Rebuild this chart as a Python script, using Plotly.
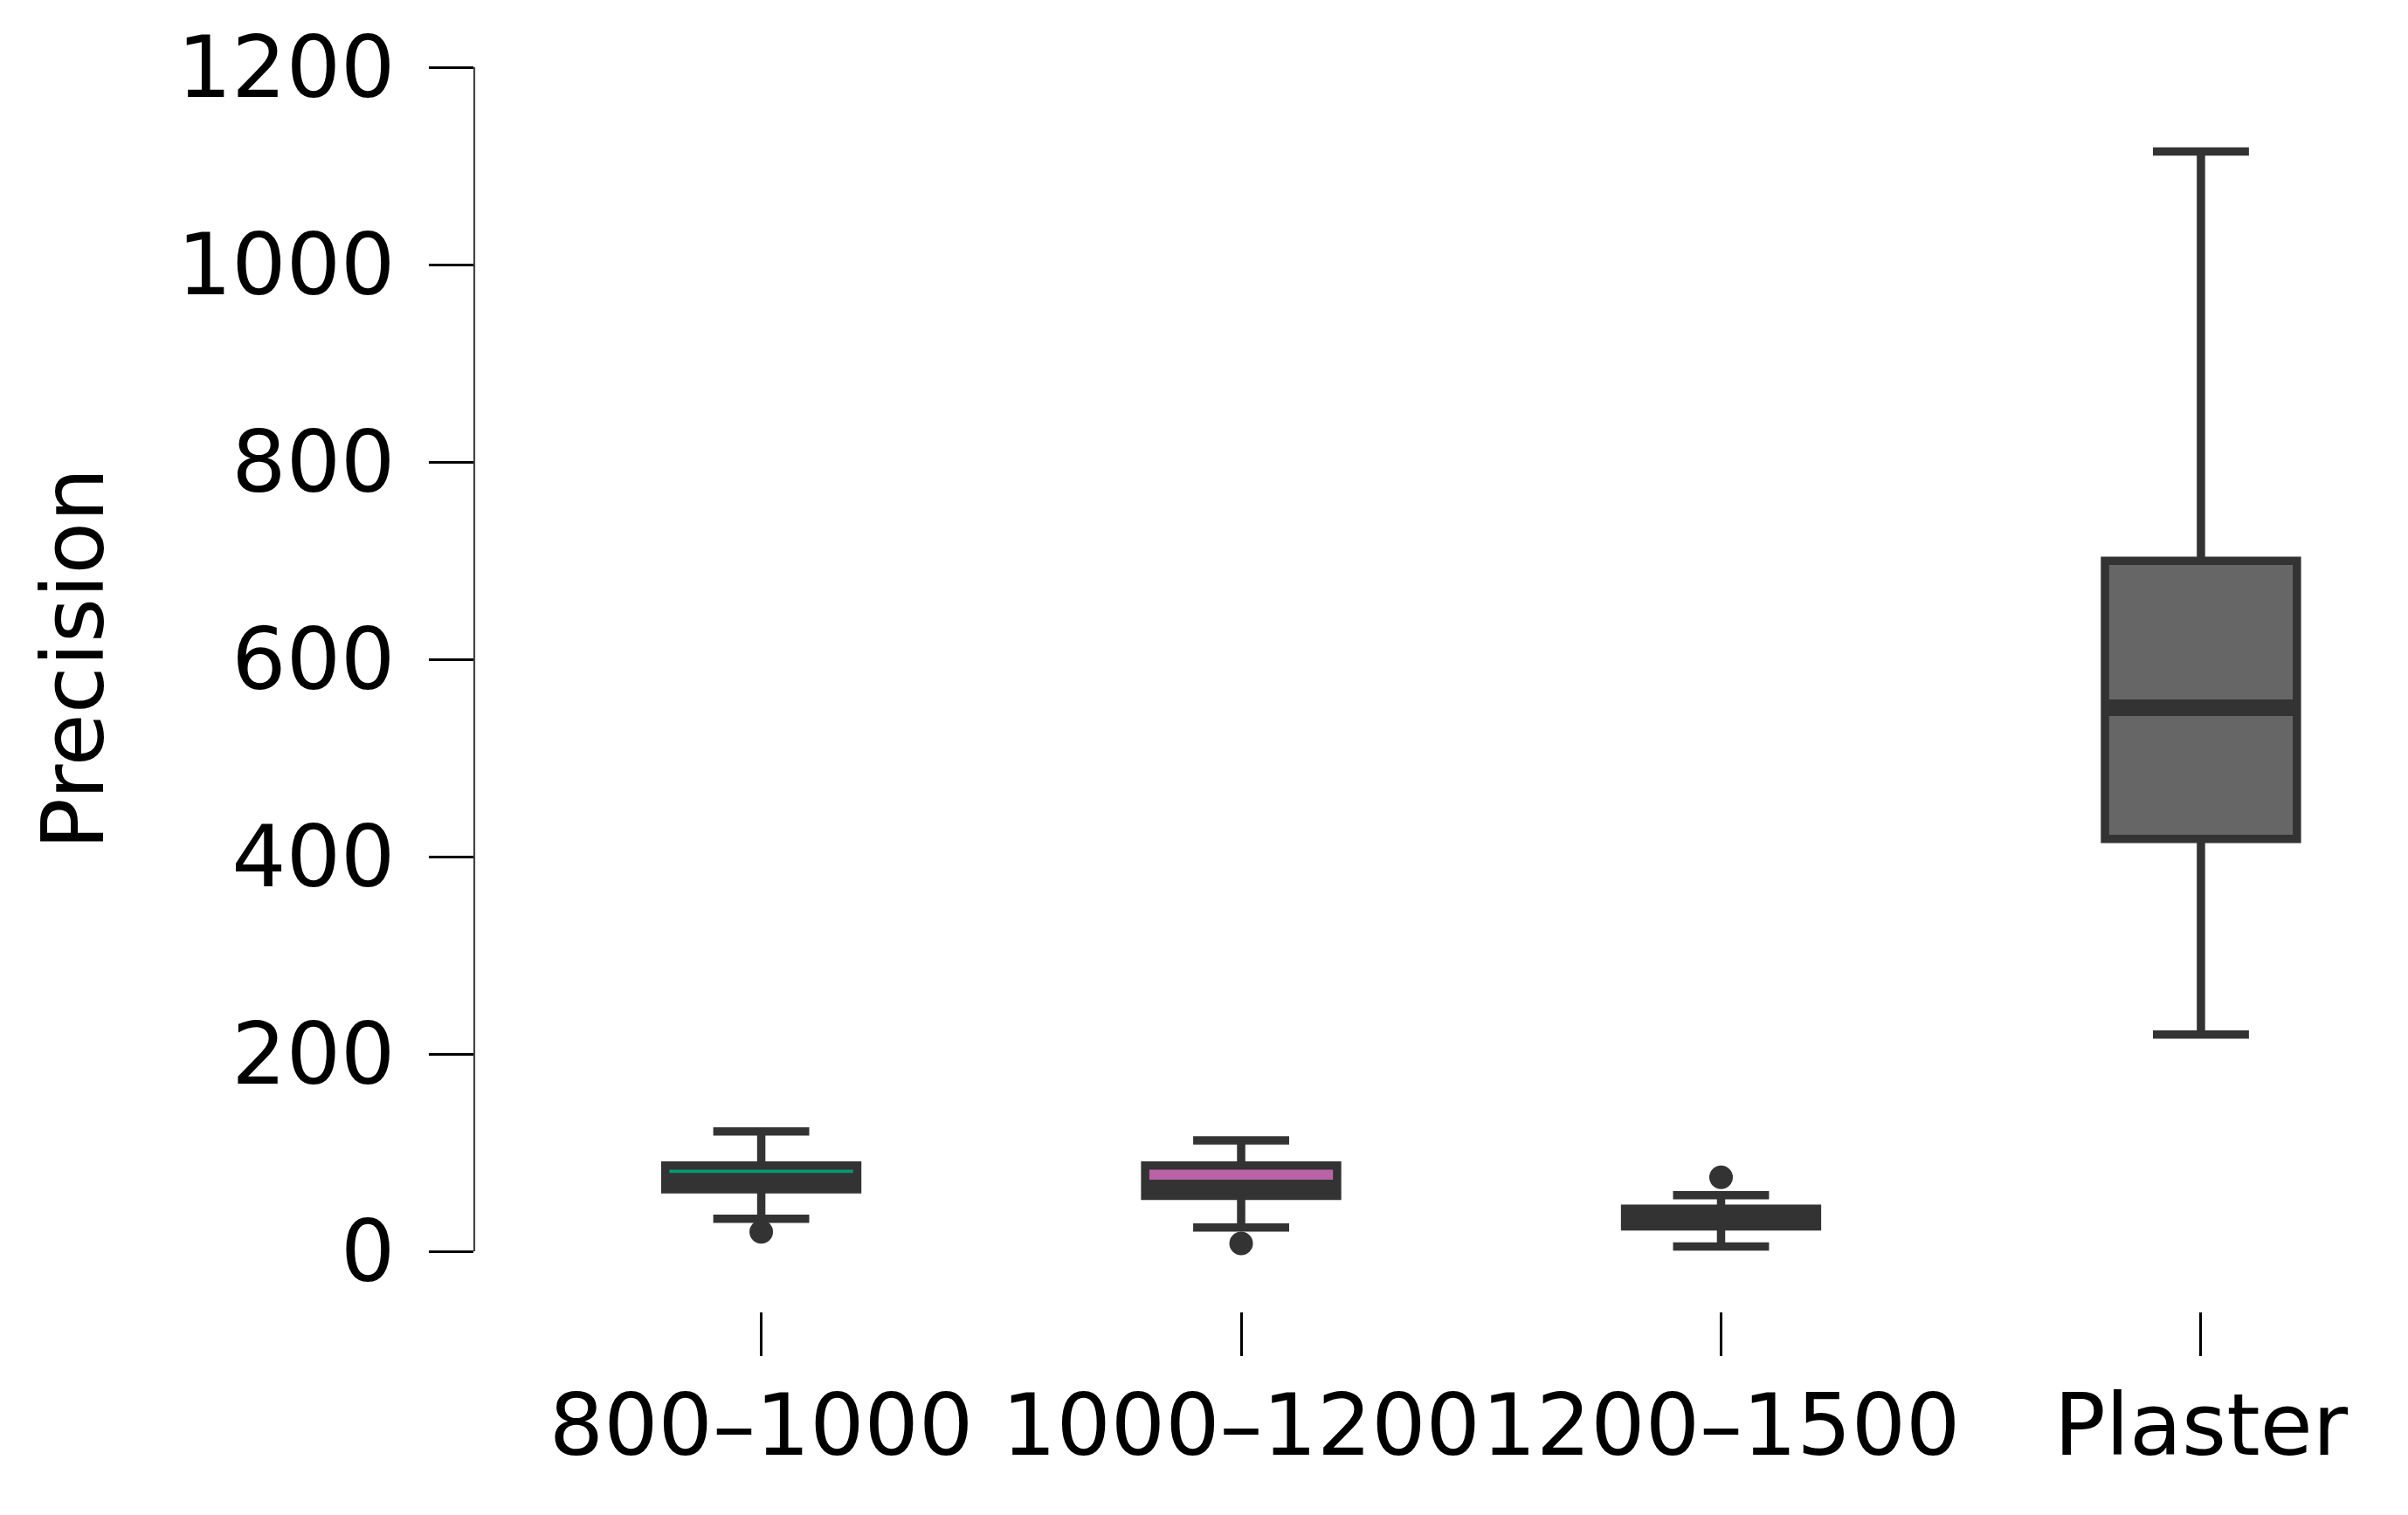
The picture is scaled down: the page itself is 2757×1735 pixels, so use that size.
import plotly.graph_objects as go

# ---- data ----
categories = ["800–1000", "1000–1200", "1200–1500", "Plaster"]
q1_vals = [62.8, 56.2, 25.2, 418.0]
median_vals = [71.0, 64.2, 34.0, 551.0]
q3_vals = [87.0, 87.0, 43.2, 699.7]
lower_whisker = [33.0, 24.2, 5.0, 219.8]
upper_whisker = [121.5, 112.4, 56.9, 1114.5]
outlier_cats = ["800–1000", "1000–1200", "1200–1500"]
outlier_vals = [19.7, 8.0, 75.0]
y_ticks = [0, 200, 400, 600, 800, 1000, 1200]
fill_colors = ["#07996F", "#B962A6", "#333333", "#666666"]

EDGE = "#333333"
FONT = "DejaVu Sans"
FS = 98

fig = go.Figure()

for i, cat in enumerate(categories):
    fig.add_trace(go.Box(
        x=[cat],
        q1=[q1_vals[i]],
        median=[median_vals[i]],
        q3=[q3_vals[i]],
        lowerfence=[lower_whisker[i]],
        upperfence=[upper_whisker[i]],
        width=0.4,
        whiskerwidth=0.5,
        fillcolor=fill_colors[i],
        line=dict(color=EDGE, width=9.5),
        boxpoints=False,
        hoverinfo="skip",
        showlegend=False,
    ))

# thicker median lines
fig.add_trace(go.Scatter(
    x=categories,
    y=median_vals,
    mode="markers",
    marker=dict(symbol="line-ew", size=157,
                line=dict(color=EDGE, width=19)),
    hoverinfo="skip",
    showlegend=False,
))

# outliers
fig.add_trace(go.Scatter(
    x=outlier_cats,
    y=outlier_vals,
    mode="markers",
    marker=dict(symbol="circle", size=27, color=EDGE,
                line=dict(width=0)),
    hoverinfo="skip",
    showlegend=False,
))

fig.update_layout(
    width=2757,
    height=1735,
    margin=dict(l=535, r=0, t=69, b=241, autoexpand=False),
    paper_bgcolor="white",
    plot_bgcolor="white",
    showlegend=False,
    boxmode="overlay",
    font=dict(family=FONT, size=FS, color="black"),
    xaxis=dict(
        type="category",
        categoryorder="array",
        categoryarray=categories,
        range=[-0.598, 3.446],
        showline=False,
        showgrid=False,
        zeroline=False,
        ticks="outside",
        ticklen=50,
        tickwidth=2.5,
        tickcolor="black",
        tickangle=0,
        automargin=False,
        tickfont=dict(family=FONT, size=FS, color="black"),
        ticklabelstandoff=-5,
    ),
    yaxis=dict(
        range=[-61.0, 1200],
        tickvals=y_ticks,
        ticktext=[str(v) for v in y_ticks],
        showline=False,
        showgrid=False,
        zeroline=False,
        ticks="outside",
        ticklen=51,
        tickwidth=2.5,
        tickcolor="black",
        automargin=False,
        tickfont=dict(family=FONT, size=FS, color="black"),
        ticklabelstandoff=19,
    ),
    shapes=[dict(
        type="line", xref="paper", yref="y",
        x0=0, x1=0, y0=0, y1=1200,
        line=dict(color="#444444", width=2.2),
        layer="above",
    )],
    annotations=[dict(
        text="Precision",
        xref="paper", yref="y",
        x=0, y=600,
        xanchor="center", yanchor="middle",
        xshift=-459,
        textangle=-90,
        showarrow=False,
        font=dict(family=FONT, size=FS, color="black"),
    )],
)

fig.write_html("out.html")
